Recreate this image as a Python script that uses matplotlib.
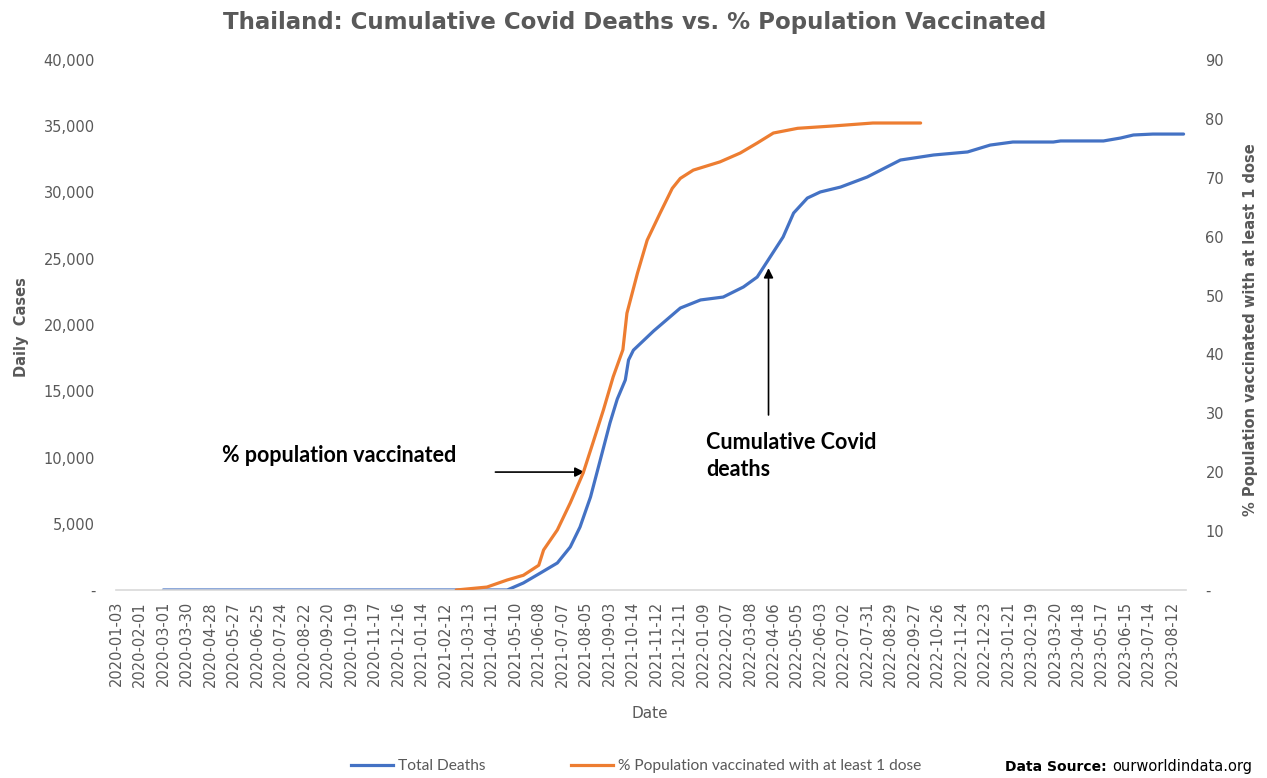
import matplotlib.pyplot as plt
from matplotlib.lines import Line2D

# category axis labels (Excel date categories, one label every 29 points)
tick_labels = [
    "2020-01-03", "2020-02-01", "2020-03-01", "2020-03-30", "2020-04-28",
    "2020-05-27", "2020-06-25", "2020-07-24", "2020-08-22", "2020-09-20",
    "2020-10-19", "2020-11-17", "2020-12-16", "2021-01-14", "2021-02-12",
    "2021-03-13", "2021-04-11", "2021-05-10", "2021-06-08", "2021-07-07",
    "2021-08-05", "2021-09-03", "2021-10-14", "2021-11-12", "2021-12-11",
    "2022-01-09", "2022-02-07", "2022-03-08", "2022-04-06", "2022-05-05",
    "2022-06-03", "2022-07-02", "2022-07-31", "2022-08-29", "2022-09-27",
    "2022-10-26", "2022-11-24", "2022-12-23", "2023-01-21", "2023-02-19",
    "2023-03-20", "2023-04-18", "2023-05-17", "2023-06-15", "2023-07-14",
    "2023-08-12",
]
label_step = 29

# total deaths (category index, value)
deaths_idx = [58, 483, 503, 524, 545, 561, 573, 586, 598, 610, 619, 629, 633,
              639, 664, 697, 722, 750, 775, 792, 808, 824, 837, 854, 870, 895,
              928, 969, 1010, 1052, 1080, 1108, 1158, 1167, 1220, 1241, 1257,
              1281, 1319]
deaths = [0, 0, 530, 1280, 2040, 3250, 4750, 7020, 9800, 12600, 14400, 15850,
          17360, 18100, 19550, 21280, 21890, 22110, 22870, 23620, 25130, 26640,
          28450, 29580, 30040, 30410, 31170, 32450, 32830, 33060, 33580, 33810,
          33810, 33890, 33890, 34110, 34340, 34410, 34410]

# % population vaccinated with at least one dose
vacc_idx = [420, 458, 483, 503, 522, 528, 545, 561, 577, 589, 602, 614, 626,
            631, 644, 656, 672, 687, 697, 713, 746, 771, 792, 812, 842, 886,
            935, 994]
vacc_pct = [0, 0.5, 1.7, 2.5, 4.2, 6.8, 10.2, 14.8, 19.9, 25.0, 30.6, 36.2,
            40.8, 47.0, 53.8, 59.4, 64.0, 68.2, 69.9, 71.3, 72.7, 74.2, 75.9,
            77.6, 78.4, 78.8, 79.3, 79.3]

blue = "#4472C4"
orange = "#ED7D31"
grey = "#595959"

fig = plt.figure(figsize=(12.67, 7.78), dpi=100)
ax = fig.add_axes([116 / 1267, 1 - 590 / 778, 1070 / 1267, 530 / 778])
ax2 = ax.twinx()

ax.plot(deaths_idx, deaths, color=blue, lw=2.3, solid_capstyle="round",
        solid_joinstyle="round")
ax2.plot(vacc_idx, vacc_pct, color=orange, lw=2.3, solid_capstyle="round",
         solid_joinstyle="round")

ax.set_xlim(-0.5, 1322)
ax.set_ylim(0, 40000)
ax2.set_ylim(0, 90)

ax.set_xticks([i * label_step for i in range(len(tick_labels))])
ax.set_xticklabels(tick_labels, rotation=90, fontsize=10.5, color=grey)

ax.set_yticks(range(0, 40001, 5000))
ax.set_yticklabels(["-" if v == 0 else f"{v:,}" for v in range(0, 40001, 5000)],
                   fontsize=10.5, color=grey)
ax2.set_yticks(range(0, 91, 10))
ax2.set_yticklabels(["-" if v == 0 else str(v) for v in range(0, 91, 10)],
                    fontsize=10.5, color=grey)

ax.tick_params(axis="x", length=0, pad=8)
ax.tick_params(axis="y", length=0, pad=15)
ax2.tick_params(axis="y", length=0, pad=14)

for a in (ax, ax2):
    for s in ("top", "left", "right"):
        a.spines[s].set_visible(False)
ax.spines["bottom"].set_color("#d9d9d9")
ax.spines["bottom"].set_linewidth(1.2)
ax2.spines["bottom"].set_visible(False)

# titles and axis labels
fig.text(635 / 1267, 1 - 22 / 778,
         "Thailand: Cumulative Covid Deaths vs. % Population Vaccinated",
         ha="center", va="center", fontsize=16.5, fontweight="bold",
         color=grey)
fig.text(22 / 1267, 1 - 327 / 778, "Daily  Cases", rotation=90, ha="center",
         va="center", fontsize=10.5, fontweight="bold", color=grey)
fig.text(1250 / 1267, 1 - 330 / 778,
         "% Population vaccinated with at least 1 dose", rotation=90,
         ha="center", va="center", fontsize=10.5, fontweight="bold", color=grey)
fig.text(650 / 1267, 1 - 713 / 778, "Date", ha="center", va="center",
         fontsize=11, color=grey)

# annotations
ax.annotate("", xy=(582, 8900), xytext=(465, 8900),
            arrowprops=dict(arrowstyle="-|>", color="black", lw=1.2,
                            mutation_scale=14))
ax.annotate("", xy=(806, 24500), xytext=(806, 13000),
            arrowprops=dict(arrowstyle="-|>", color="black", lw=1.2,
                            mutation_scale=14))
fig.text(222 / 1267, 1 - 456 / 778, "% population vaccinated", ha="left",
         va="center", fontsize=15.5, fontweight="bold", color="black",
         family="Lato")
fig.text(706 / 1267, 1 - 456 / 778, "Cumulative Covid\ndeaths", ha="left",
         va="center", fontsize=15.5, fontweight="bold", color="black",
         family="Lato", linespacing=1.3)

# legend and source
handles = [Line2D([], [], color=blue, lw=2.3),
           Line2D([], [], color=orange, lw=2.3)]
fig.legend(handles, ["Total Deaths", "% Population vaccinated with at least 1 dose"],
           loc="center", bbox_to_anchor=(636 / 1267, 1 - 766 / 778), ncol=2,
           frameon=False, handlelength=2.7, handletextpad=0.3, columnspacing=5.5,
           prop={"family": "Lato", "size": 11.2}, labelcolor=grey)
fig.text(1005 / 1267, 1 - 767 / 778, "Data Source:", ha="left", va="center",
         fontsize=10, fontweight="bold", color="black")
fig.text(1112 / 1267, 1 - 767 / 778, "ourworldindata.org", ha="left",
         va="center", fontsize=10.5, color="black")

fig.savefig("out.png", dpi=100)
